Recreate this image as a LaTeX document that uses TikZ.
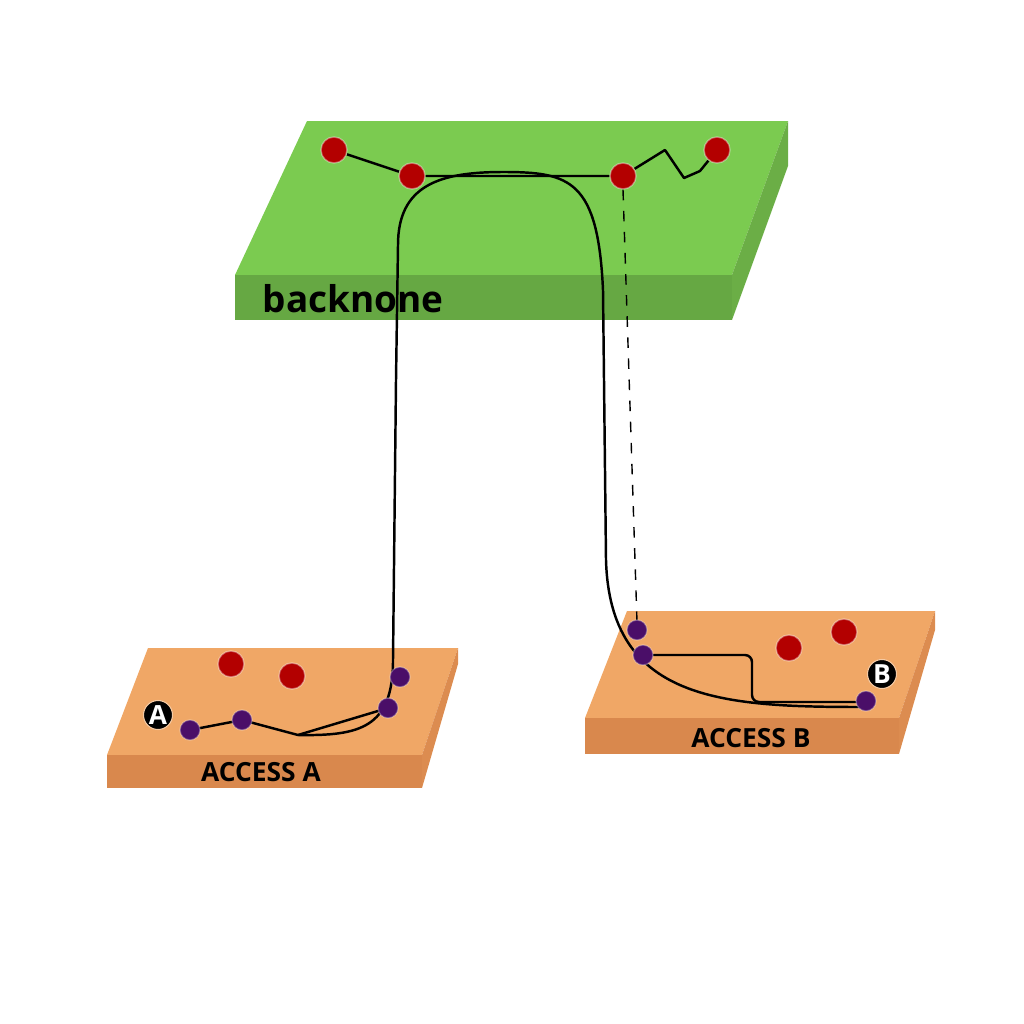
\documentclass[tikz,border=0pt]{standalone}
\usepackage{fontspec}
\setmainfont{Open Sans}
\usetikzlibrary{calc}
\definecolor{greenTop}{HTML}{7BCB50}
\definecolor{greenFront}{HTML}{66A843}
\definecolor{greenSide}{HTML}{6BAE46}
\definecolor{orangeTop}{HTML}{F0A766}
\definecolor{orangeFront}{HTML}{D9884D}
\definecolor{orangeSide}{HTML}{DC8C50}
\definecolor{coreRed}{HTML}{B30000}
\definecolor{edgePurple}{HTML}{4A0E68}

\begin{document}
\begin{tikzpicture}[x=0.01cm, y=-0.01cm]
    \tikzstyle{core dot} = [circle, fill=coreRed, draw=white, draw opacity=0.4, line width=0.4pt, minimum size=0.26cm, inner sep=0pt]
    \tikzstyle{edge dot} = [circle, fill=edgePurple, draw=white, draw opacity=0.3, line width=0.4pt, minimum size=0.2cm, inner sep=0pt]
    \tikzstyle{link} = [line width=0.7pt, line join=round]
    \tikzstyle{tag} = [circle, fill=black, draw=orangeTop!60!white, line width=0.3pt, text=white, font=\bfseries\fontsize{7.5}{8}\selectfont, minimum size=0.29cm, inner sep=0pt]
    \tikzstyle{slab label} = [font=\bfseries\fontsize{7.5}{9}\selectfont, anchor=base]
    \useasboundingbox (0,0) rectangle (1024,1024);
    % backbone slab
    \fill[greenTop] (307,121) -- (788,121) -- (732,275) -- (235,275) -- cycle;
    \fill[greenFront] (235,275) rectangle (732,320);
    \fill[greenSide] (788,121) -- (788,166) -- (732,320) -- (732,275) -- cycle;
    \node[font=\bfseries\fontsize{10.5}{13}\selectfont, anchor=base west, inner sep=0pt] (bbname) at (262,312) {backnone};
    % access slabs
    \fill[orangeTop] (148,648) -- (458,648) -- (422,755) -- (107,755) -- cycle;
    \fill[orangeFront] (107,755) rectangle (422,788);
    \fill[orangeSide] (458,648) -- (458,664) -- (422,788) -- (422,755) -- cycle;
    \node[slab label] (accnameA) at (261,781) {ACCESS A};
    \fill[orangeTop] (627,611) -- (935,611) -- (899,718) -- (585,718) -- cycle;
    \fill[orangeFront] (585,718) rectangle (899,754);
    \fill[orangeSide] (935,611) -- (935,630) -- (899,754) -- (899,718) -- cycle;
    \node[slab label] (accnameB) at (751,747) {ACCESS B};
    % routers
    \node[core dot] (bb1) at (334,150) {};
    \node[core dot] (bb2) at (412,176) {};
    \node[core dot] (bb3) at (623,176) {};
    \node[core dot] (bb4) at (717,150) {};
    \node[core dot] (ra1) at (231,664) {};
    \node[core dot] (ra2) at (292,676) {};
    \node[core dot] (rb1) at (789,648) {};
    \node[core dot] (rb2) at (844,632) {};
    \coordinate (aj) at (298,735);
    % links
    \draw[link] (bb1) -- (bb2) -- (bb3);
    \draw[link] (bb3) -- (665,150) -- (684,178) -- (700,171) -- (bb4);
    \draw[dashed, line width=0.4pt] (bb3.south) -- (637,622);
    \draw[link] (190,730) -- (242,720) -- (aj) -- (388,708);
    \draw[link] (aj) .. controls (360,736) and (393,728) .. (393,660)
        -- (396,380) -- (398,245)
        .. controls (398,185) and (440,172) .. (503,172)
        .. controls (570,172) and (598,180) .. (603,290)
        -- (606,560)
        .. controls (610,700) and (720,707) .. (862,707);
    \draw[link, rounded corners=2pt] (643,655) -- (752,655) -- (752,702) -- (866,702);
    % hosts
    \node[edge dot] (ha1) at (190,730) {};
    \node[edge dot] (ha2) at (242,720) {};
    \node[edge dot] (ha3) at (388,708) {};
    \node[edge dot] (ha4) at (400,677) {};
    \node[edge dot] (hb1) at (637,630) {};
    \node[edge dot] (hb2) at (643,655) {};
    \node[edge dot] (hb3) at (866,701) {};
    \node[tag] (tagA) at (158,715) {A};
    \node[tag] (tagB) at (882,674) {B};
\end{tikzpicture}
\end{document}
